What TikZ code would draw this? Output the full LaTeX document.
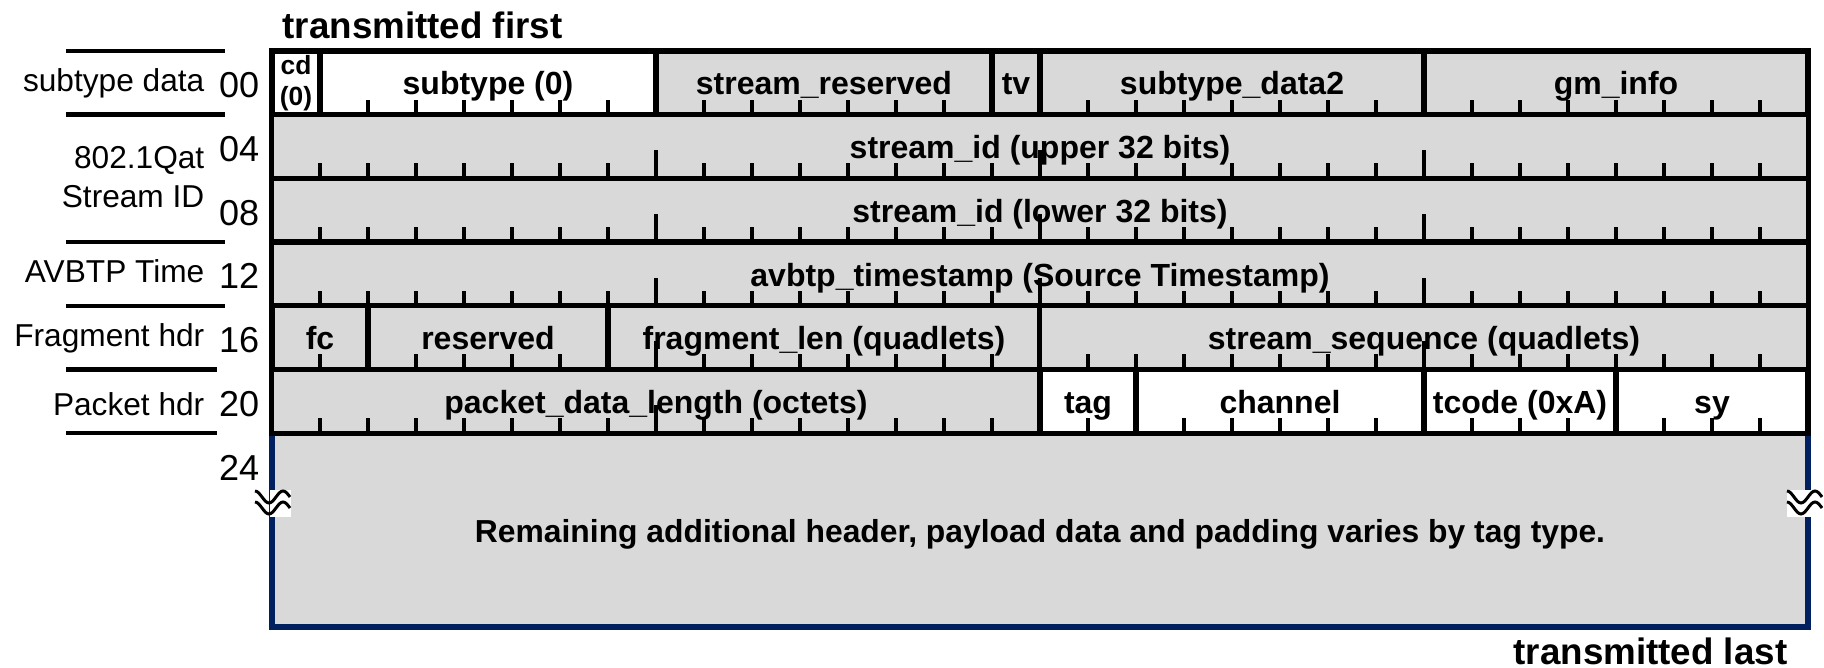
\documentclass[tikz,border=0pt]{standalone}
\usepackage{fontspec}
\setmainfont{Liberation Sans}
\usepackage{tikz}

\begin{document}
\begin{tikzpicture}[x=0.01cm, y=-0.01cm,
  cella/.style={draw=black, line width=1.5pt, fill=grigio, inner sep=0pt,
    minimum height=0.637cm, minimum width=#1*0.48cm},
  campo/.style={cella=#1, font=\fontsize{9.1}{11}\selectfont\bfseries,
    text height=8.9pt, text depth=2pt},
  tacca/.style={line width=1pt},
  riga/.style={line width=1.3pt},
  etich/.style={anchor=base east, inner sep=0pt, font=\fontsize{9}{11}\selectfont},
  offs/.style={anchor=base east, inner sep=0pt, font=\fontsize{10.25}{12}\selectfont},
  titolo/.style={inner sep=0pt, font=\fontsize{10.45}{12}\selectfont\bfseries},
  onda/.style={line width=0.85pt}]

% Colori
\definecolor{grigio}{HTML}{D9D9D9}
\definecolor{blu}{HTML}{002060}

\useasboundingbox (0,0) rectangle (1824,668);

% Titoli
\node[titolo, anchor=base west] (primo) at (282,39) {transmitted first};
\node[titolo, anchor=base east] (ultimo) at (1788,665) {transmitted last};

% Area finale
\fill[grigio] (272,433.2) rectangle (1808,627);
\draw[blu, line width=1.5pt] (272,433.2) -- (272,627) -- (1808,627) -- (1808,433.2);
\node[font=\fontsize{9.05}{11}\selectfont\bfseries, anchor=base, inner sep=0pt] (resto) at (1040,543)
  {Remaining additional header, payload data and padding varies by tag type.};

% Riga 00
\node[cella=1, fill=white, font=\fontsize{7.5}{8.8}\selectfont\bfseries, align=center] (cd) at (296,82.85) {cd\\(0)};
\node[campo=7, fill=white] (subtype) at (488,82.85) {subtype (0)};
\node[campo=7] (sres) at (824,82.85) {stream\_reserved};
\node[campo=1] (tv) at (1016,82.85) {tv};
\node[campo=8] (sdata) at (1232,82.85) {subtype\_data2};
\node[campo=8] (gm) at (1616,82.85) {gm\_info};

% Righe 04, 08, 12
\node[campo=32] (idalto) at (1040,146.55) {stream\_id (upper 32 bits)};
\node[campo=32] (idbasso) at (1040,210.25) {stream\_id (lower 32 bits)};
\node[campo=32] (tempo) at (1040,273.95) {avbtp\_timestamp (Source Timestamp)};

% Riga 16
\node[campo=2] (fc) at (320,337.65) {fc};
\node[campo=5] (ris) at (488,337.65) {reserved};
\node[campo=9] (flen) at (824,337.65) {fragment\_len (quadlets)};
\node[campo=16] (sseq) at (1424,337.65) {stream\_sequence (quadlets)};

% Riga 20
\node[campo=16] (plen) at (656,401.35) {packet\_data\_length (octets)};
\node[campo=2, fill=white] (tag) at (1088,401.35) {tag};
\node[campo=6, fill=white] (canale) at (1280,401.35) {channel};
\node[campo=4, fill=white] (tcode) at (1520,401.35) {tcode (0xA)};
\node[campo=4, fill=white] (sy) at (1712,401.35) {sy};

% Tacche dei bit
\foreach \yb in {114.7,178.4,242.1,305.8,369.5,433.2} {
  \foreach \b in {1,...,31}
    \draw[tacca] ({272+48*\b},\yb) -- ++(0,-15);
  \foreach \b in {8,16,24}
    \draw[tacca] ({272+48*\b},\yb) -- ++(0,-28);
}

% Interruzioni
\fill[white] (270,490) rectangle (291,517);
\fill[white] (1787,490) rectangle (1824,517);
\foreach \xo in {255,1787}
  \foreach \dy in {0,11}
    \draw[onda] (\xo,{491+\dy}) cos ({\xo+7},{497+\dy}) sin ({\xo+14},{503+\dy})
      cos ({\xo+21},{497+\dy}) sin ({\xo+28},{491+\dy}) cos ({\xo+35},{497+\dy});

% Linee a sinistra
\foreach \yl in {51,114.7,242.1,305.8}
  \draw[riga] (66,\yl) -- (225,\yl);
\foreach \yl in {369.5,433.2}
  \draw[riga] (66,\yl) -- (217,\yl);

% Etichette e offset
\node[etich] (lsub) at (205,92) {subtype data};
\node[offs] (o00) at (260,98) {00};
\node[etich] (lqat) at (205,169) {802.1Qat};
\node[offs] (o04) at (260,161.7) {04};
\node[etich] (lsid) at (205,208) {Stream ID};
\node[offs] (o08) at (260,225.4) {08};
\node[etich] (ltempo) at (205,283) {AVBTP Time};
\node[offs] (o12) at (260,289) {12};
\node[etich] (lframm) at (205,347) {Fragment hdr};
\node[offs] (o16) at (260,352.8) {16};
\node[etich] (lpac) at (205,416) {Packet hdr};
\node[offs] (o20) at (260,416.5) {20};
\node[offs] (o24) at (260,481) {24};
\end{tikzpicture}
\end{document}
